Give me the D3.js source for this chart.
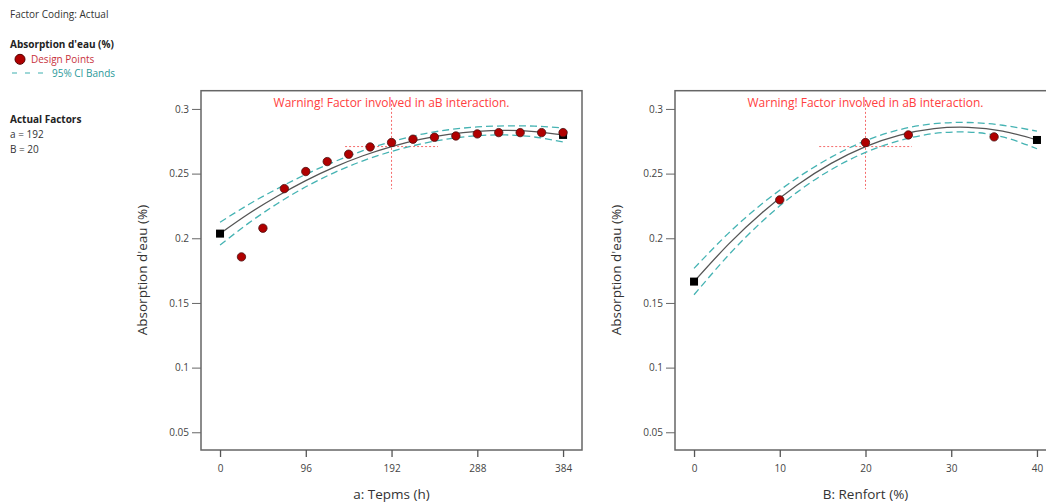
<!DOCTYPE html>
<html><head><meta charset="utf-8">
<script src="https://cdn.jsdelivr.net/npm/d3@7"></script>
<style>
body{margin:0;background:#fff;}
text{font-family:"Open Sans","Noto Sans",sans-serif;}
</style></head>
<body><svg id="c" width="1046" height="504"></svg>
<script>
// ---- data ----
const yTicks = [0.05, 0.1, 0.15, 0.2, 0.25, 0.3];
const aTicks = [0, 96, 192, 288, 384];
const bTicks = [0, 10, 20, 30, 40];

const aPointsX = [24, 48, 72, 96, 120, 144, 168, 192, 216, 240, 264, 288, 312, 336, 360, 384];
const aPointsY = [0.1856, 0.2078, 0.2384, 0.2516, 0.2593, 0.2650, 0.2706, 0.2740, 0.2766, 0.2781, 0.2791, 0.2807, 0.2817, 0.2817, 0.2817, 0.2817];
const aCurveX = [0, 32, 64, 96, 128, 160, 192, 224, 256, 288, 320, 352, 384];
const aCurveY = [0.2036, 0.2189, 0.2325, 0.2446, 0.2550, 0.2638, 0.2709, 0.2765, 0.2804, 0.2827, 0.2834, 0.2825, 0.2799];
const aCiUpper = [0.2124, 0.2261, 0.2383, 0.2494, 0.2592, 0.2677, 0.2747, 0.2802, 0.2839, 0.2861, 0.2869, 0.2867, 0.2854];
const aCiLower = [0.1948, 0.2117, 0.2267, 0.2398, 0.2508, 0.2599, 0.2671, 0.2728, 0.2769, 0.2793, 0.2799, 0.2783, 0.2744];
const aEnds = [[0, 0.2036], [384, 0.2799]];

const bPointsX = [10, 20, 25, 35];
const bPointsY = [0.2297, 0.2740, 0.2799, 0.2784];
const bCurveX = [0, 4, 8, 12, 16, 20, 24, 28, 32, 36, 40];
const bCurveY = [0.1665, 0.1953, 0.2202, 0.2410, 0.2579, 0.2709, 0.2798, 0.2848, 0.2858, 0.2829, 0.2760];
const bCiUpper = [0.1767, 0.2038, 0.2270, 0.2465, 0.2627, 0.2754, 0.2840, 0.2886, 0.2895, 0.2874, 0.2828];
const bCiLower = [0.1563, 0.1868, 0.2134, 0.2355, 0.2531, 0.2664, 0.2756, 0.2810, 0.2821, 0.2784, 0.2692];
const bEnds = [[0, 0.1665], [40, 0.2760]];

const svg = d3.select("#c");

// ---- legend ----
const lg = svg.append("g").attr("font-size", 10);
lg.append("text").attr("x", 10).attr("y", 18).attr("fill", "#333").text("Factor Coding: Actual");
lg.append("text").attr("x", 10).attr("y", 48).attr("fill", "#222").attr("font-weight", "bold").text("Absorption d'eau (%)");
lg.append("circle").attr("cx", 20).attr("cy", 59.3).attr("r", 5).attr("fill", "#b00000").attr("stroke", "#500");
lg.append("text").attr("x", 31).attr("y", 63).attr("fill", "#c8323c").text("Design Points");
lg.append("line").attr("x1", 12).attr("x2", 44).attr("y1", 73).attr("y2", 73)
  .attr("stroke", "#3fb0b0").attr("stroke-width", 1.2).attr("stroke-dasharray", "5,8");
lg.append("text").attr("x", 52).attr("y", 77).attr("fill", "#2a9a9a").text("95% CI Bands");
lg.append("text").attr("x", 10).attr("y", 123).attr("fill", "#222").attr("font-weight", "bold").text("Actual Factors");
lg.append("text").attr("x", 10).attr("y", 138).attr("fill", "#333").text("a = 192");
lg.append("text").attr("x", 10).attr("y", 153).attr("fill", "#333").text("B = 20");

// ---- panels ----
function panel(o) {
  const g = svg.append("g");
  const x = d3.scaleLinear().domain(o.xDomain).range([o.left, o.right]);
  const y = d3.scaleLinear().domain([0.0363, 0.3141]).range([450, 90.7]);

  g.append("rect").attr("x", o.left).attr("y", 90.7).attr("width", o.right - o.left).attr("height", 450 - 90.7)
    .attr("fill", "none").attr("stroke", "#666").attr("stroke-width", 1.5);

  const ya = g.append("g").attr("transform", `translate(${o.left},0)`)
    .call(d3.axisLeft(y).tickValues(yTicks).tickFormat(d3.format("")).tickSize(9).tickPadding(3));
  ya.select(".domain").remove();
  ya.selectAll("line").attr("stroke", "#666");
  ya.selectAll("text").attr("fill", "#444").attr("font-size", 10).attr("font-family", "Open Sans, Noto Sans, sans-serif");

  const xa = g.append("g").attr("transform", `translate(0,450)`)
    .call(d3.axisBottom(x).tickValues(o.xTicks).tickFormat(d3.format("")).tickSize(7).tickPadding(8));
  xa.select(".domain").remove();
  xa.selectAll("line").attr("stroke", "#555").attr("stroke-width", 1.3);
  xa.selectAll("text").attr("fill", "#444").attr("font-size", 10).attr("font-family", "Open Sans, Noto Sans, sans-serif");

  g.append("text").attr("x", (x(o.xTicks[0]) + x(o.xTicks[o.xTicks.length - 1])) / 2).attr("y", 499)
    .attr("text-anchor", "middle").attr("font-size", 13.5).attr("fill", "#333").text(o.xTitle);
  g.append("text").attr("transform", `translate(${o.left - 54},270) rotate(-90)`)
    .attr("text-anchor", "middle").attr("font-size", 13.5).attr("fill", "#333").text("Absorption d'eau (%)");

  const cx = o.cross[0], cy = 0.2709;
  g.append("line").attr("x1", x(cx)).attr("x2", x(cx)).attr("y1", y(0.3070)).attr("y2", y(0.2380))
    .attr("stroke", "#f56b6b").attr("stroke-width", 1).attr("stroke-dasharray", "2,2");
  g.append("line").attr("x1", x(cx - o.cross[1])).attr("x2", x(cx + o.cross[1])).attr("y1", y(cy)).attr("y2", y(cy))
    .attr("stroke", "#f56b6b").attr("stroke-width", 1).attr("stroke-dasharray", "2,2");

  g.append("text").attr("x", x(cx)).attr("y", 107).attr("text-anchor", "middle").attr("font-size", 12)
    .attr("fill", "#ff4040").text("Warning! Factor involved in aB interaction.");

  const line = d3.line().curve(d3.curveNatural).x(d => x(d[0])).y(d => y(d[1]));
  const mk = (xs, ys) => xs.map((v, i) => [v, ys[i]]);
  [o.ciU, o.ciL].forEach(arr => {
    g.append("path").datum(mk(o.curveX, arr)).attr("d", line).attr("fill", "none")
      .attr("stroke", "#45b3b3").attr("stroke-width", 1.3).attr("stroke-dasharray", "7,4");
  });
  g.append("path").datum(mk(o.curveX, o.curveY)).attr("d", line).attr("fill", "none")
    .attr("stroke", "#555").attr("stroke-width", 1.3);

  g.selectAll("rect.end").data(o.ends).enter().append("rect").attr("class", "end")
    .attr("x", d => x(d[0]) - 4).attr("y", d => y(d[1]) - 4).attr("width", 8).attr("height", 8).attr("fill", "#000");

  g.selectAll("circle.pt").data(mk(o.px, o.py)).enter().append("circle").attr("class", "pt")
    .attr("cx", d => x(d[0])).attr("cy", d => y(d[1])).attr("r", 4.2)
    .attr("fill", "#b00000").attr("stroke", "#4a1010").attr("stroke-width", 0.8);
}

panel({left: 201, right: 582, xDomain: [-21.3, 405.2], xTicks: aTicks, xTitle: "a: Tepms (h)",
  cross: [192, 52], curveX: aCurveX, curveY: aCurveY, ciU: aCiUpper, ciL: aCiLower, ends: aEnds, px: aPointsX, py: aPointsY});
panel({left: 675, right: 1056, xDomain: [-2.22, 42.22], xTicks: bTicks, xTitle: "B: Renfort (%)",
  cross: [20, 5.4], curveX: bCurveX, curveY: bCurveY, ciU: bCiUpper, ciL: bCiLower, ends: bEnds, px: bPointsX, py: bPointsY});
</script></body></html>
